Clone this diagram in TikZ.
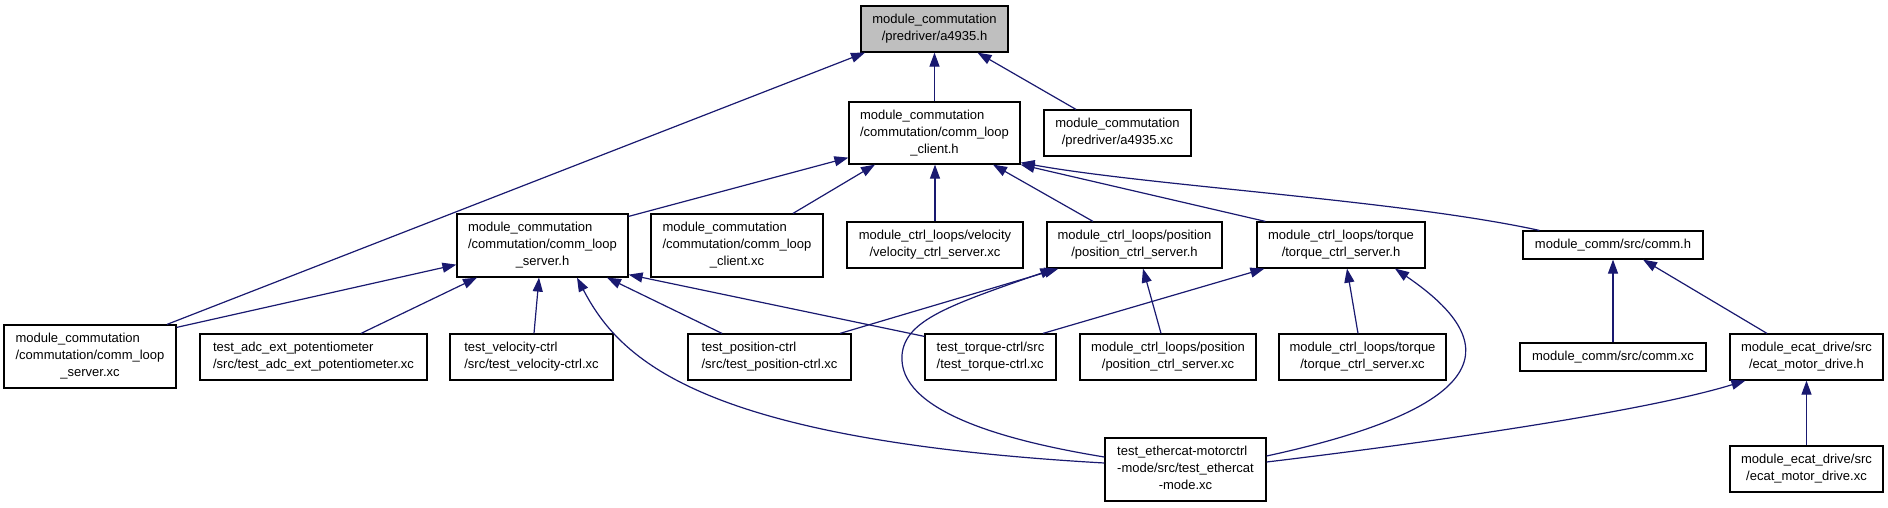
\documentclass[tikz,border=0pt]{standalone}
\usepackage{fontspec}
\setmainfont{Liberation Sans}
\usetikzlibrary{arrows.meta}
\definecolor{edgeblue}{HTML}{191970}
\definecolor{hlgray}{HTML}{BFBFBF}
\newcommand{\LLC}[3]{\begin{tabular}{@{}l@{}}#1\\#2\\\multicolumn{1}{@{}c@{}}{#3}\end{tabular}}
\newcommand{\LL}[2]{\begin{tabular}{@{}l@{}}#1\\#2\end{tabular}}
\newcommand{\CC}[2]{\begin{tabular}{@{}c@{}}#1\\#2\end{tabular}}
\begin{document}
\begin{tikzpicture}[x=1pt,y=-1pt,
  fb/.style 2 args={draw=black, line width=1.2pt, inner sep=0pt, fill=white,
    font=\fontsize{13}{17}\selectfont, minimum width=#1pt, minimum height=#2pt},
  dep/.style={draw=edgeblue, line width=1.2pt, -{Triangle[length=14pt,width=10pt]}}]
\fill[white] (0,0) rectangle (1888,507);
\useasboundingbox (0,0) rectangle (1888,507);

\node[fb={147}{46},fill=hlgray] (a4935h) at (934.5,29) {\CC{module\_commutation}{/predriver/a4935.h}};
\node[fb={171}{62}] (clienth) at (934.5,133) {\LLC{module\_commutation}{/commutation/comm\_loop}{\_client.h}};
\node[fb={147}{46}] (a4935xc) at (1117.5,133) {\CC{module\_commutation}{/predriver/a4935.xc}};
\node[fb={172}{63}] (clientxc) at (737,245.5) {\LLC{module\_commutation}{/commutation/comm\_loop}{\_client.xc}};
\node[fb={176}{46}] (velxc) at (935,245) {\CC{module\_ctrl\_loops/velocity}{/velocity\_ctrl\_server.xc}};
\node[fb={175}{46}] (posh) at (1134.5,245) {\CC{module\_ctrl\_loops/position}{/position\_ctrl\_server.h}};
\node[fb={168}{46}] (torqueh) at (1341,245) {\CC{module\_ctrl\_loops/torque}{/torque\_ctrl\_server.h}};
\node[fb={180}{28}] (commh) at (1613,245) {module\_comm/src/comm.h};
\node[fb={171}{63}] (serverh) at (542.5,245.5) {\LLC{module\_commutation}{/commutation/comm\_loop}{\_server.h}};
\node[fb={172}{63}] (serverxc) at (90,356.5) {\LLC{module\_commutation}{/commutation/comm\_loop}{\_server.xc}};
\node[fb={227}{46}] (adc) at (313.5,357) {\LL{test\_adc\_ext\_potentiometer}{/src/test\_adc\_ext\_potentiometer.xc}};
\node[fb={163}{46}] (testvel) at (531.5,357) {\LL{test\_velocity-ctrl}{/src/test\_velocity-ctrl.xc}};
\node[fb={163}{46}] (testpos) at (769.5,357) {\LL{test\_position-ctrl}{/src/test\_position-ctrl.xc}};
\node[fb={131}{46}] (testtorque) at (990.5,357) {\LL{test\_torque-ctrl/src}{/test\_torque-ctrl.xc}};
\node[fb={176}{46}] (posxc) at (1168,357) {\CC{module\_ctrl\_loops/position}{/position\_ctrl\_server.xc}};
\node[fb={167}{46}] (torquexc) at (1362.5,357) {\CC{module\_ctrl\_loops/torque}{/torque\_ctrl\_server.xc}};
\node[fb={186}{28}] (commxc) at (1613,357) {module\_comm/src/comm.xc};
\node[fb={153}{46}] (ecath) at (1806.5,357) {\CC{module\_ecat\_drive/src}{/ecat\_motor\_drive.h}};
\node[fb={161}{63}] (ethercat) at (1185.5,469.5) {\LLC{test\_ethercat-motorctrl}{-mode/src/test\_ethercat}{-mode.xc}};
\node[fb={153}{46}] (ecatxc) at (1806.5,469) {\CC{module\_ecat\_drive/src}{/ecat\_motor\_drive.xc}};

\draw[dep] (clienth.north) -- (a4935h.south);
\draw[dep] ([xshift=-41.5pt]a4935xc.north) -- ([xshift=43pt]a4935h.south);
\draw[dep] ([xshift=77pt]serverxc.north) -- ([xshift=-69.5pt]a4935h.south);
\draw[dep] ([yshift=-3pt]serverh.north east) -- ([yshift=7pt]clienth.south west);
\draw[dep] ([xshift=56pt]clientxc.north) -- ([xshift=-59.5pt]clienth.south);
\draw[dep] (velxc.north) -- (velxc.north |- clienth.south);
\draw[dep] ([xshift=-41.5pt]posh.north) -- ([xshift=58.5pt]clienth.south);
\draw[dep] ([xshift=9pt]torqueh.north west) -- (clienth.south east);
\draw[dep] ([xshift=17pt]commh.north west) .. controls (1400,200) and (1150,186) .. ([yshift=2pt]clienth.south east);
\draw[dep] ([yshift=-3pt]serverxc.north east) -- ([yshift=13pt]serverh.south west);
\draw[dep] ([xshift=47.5pt]adc.north) -- ([xshift=-65.5pt]serverh.south);
\draw[dep] ([xshift=2.5pt]testvel.north) -- ([xshift=-3.5pt]serverh.south);
\draw[dep] ([xshift=-47.5pt]testpos.north) -- ([xshift=64.5pt]serverh.south);
\draw[dep] ([yshift=-3pt]testtorque.north west) -- ([yshift=3pt]serverh.south east);
\draw[dep] ([yshift=6.5pt]ethercat.west) .. controls (700,440) and (620,360) .. ([xshift=34.5pt]serverh.south);
\draw[dep] ([xshift=70.5pt]testpos.north) -- ([xshift=12pt]posh.south west);
\draw[dep] ([yshift=12.5pt]ethercat.west) .. controls (1000,440) and (898,410) .. (902,355) .. controls (905,320) and (950,305) .. ([xshift=8pt]posh.south west);
\draw[dep] ([xshift=-7pt]posxc.north) -- ([xshift=8.5pt]posh.south);
\draw[dep] ([xshift=52.5pt]testtorque.north) -- ([xshift=8pt]torqueh.south west);
\draw[dep] ([xshift=-4.5pt]torquexc.north) -- ([xshift=6pt]torqueh.south);
\draw[dep] ([yshift=13.5pt]ethercat.east) .. controls (1525,400) and (1485,330) .. ([xshift=54pt]torqueh.south);
\draw[dep] (commxc.north) -- (commh.south);
\draw[dep] ([xshift=-39.5pt]ecath.north) -- ([xshift=30pt]commh.south);
\draw[dep] (ecatxc.north) -- (ecath.south);
\draw[dep] ([yshift=7.5pt]ethercat.east) .. controls (1450,440) and (1650,410) .. ([xshift=16pt]ecath.south west);
\end{tikzpicture}
\end{document}
